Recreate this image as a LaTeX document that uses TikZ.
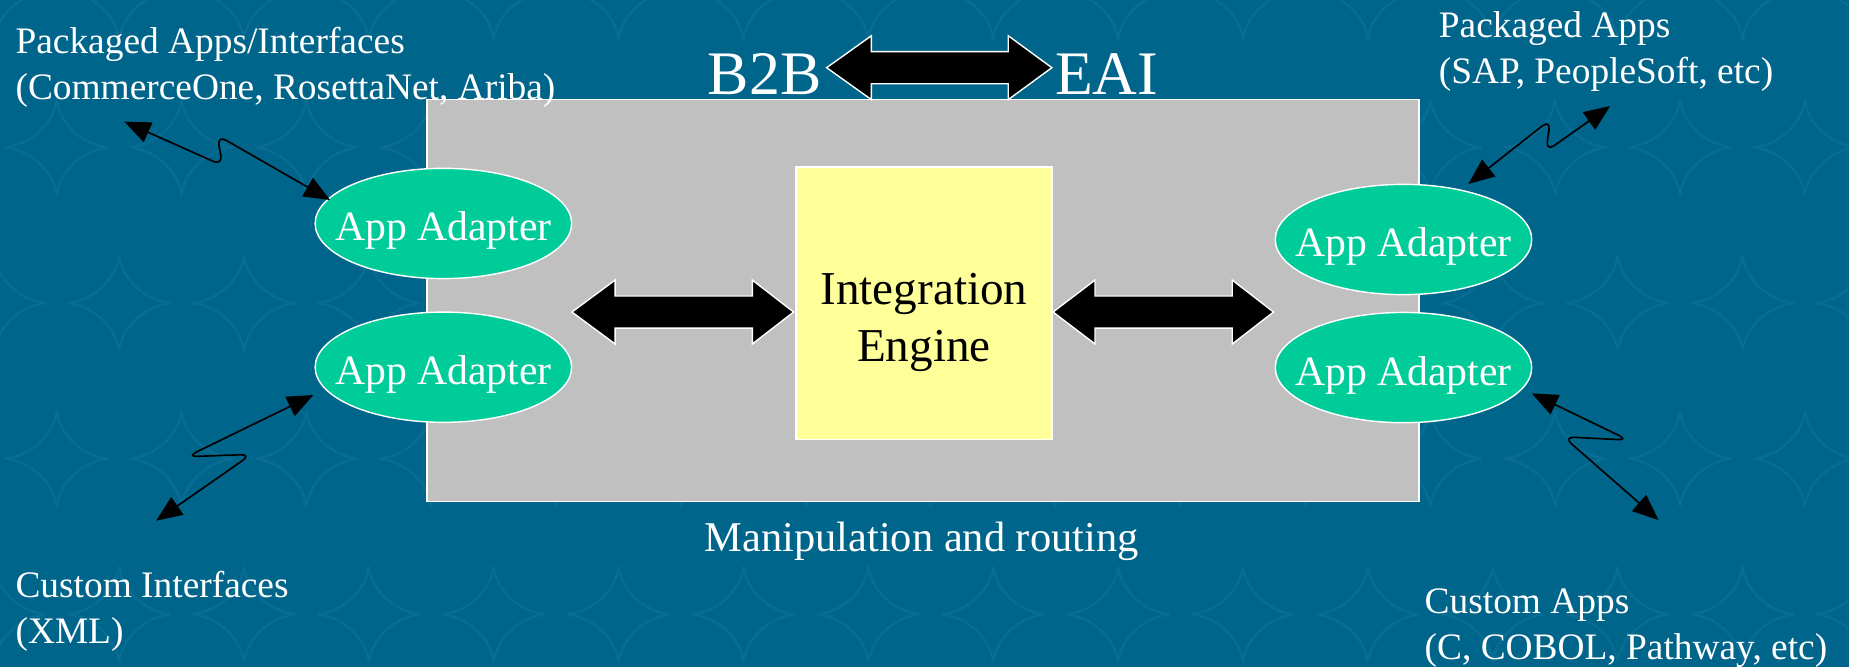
\documentclass[tikz,border=0pt]{standalone}
\usepackage{fontspec}
\setmainfont{Liberation Serif}
\usetikzlibrary{arrows.meta,calc,shapes.geometric}

\definecolor{slide}{HTML}{00658B}
\definecolor{starline}{HTML}{096C93}
\definecolor{panel}{HTML}{C0C0C0}
\definecolor{adapter}{HTML}{00CC99}
\definecolor{engine}{HTML}{FFFF99}

\begin{document}
\begin{tikzpicture}[x=1pt,y=-1pt,
  starstroke/.style={draw=starline, line width=2.2pt, line join=round},
  panelbox/.style={rectangle, draw=white, line width=1.2pt, fill=panel, inner sep=0pt},
  enginebox/.style={rectangle, draw=white, line width=1.2pt, fill=engine, inner sep=0pt,
    minimum width=217pt, minimum height=231pt},
  adapterbox/.style={ellipse, draw=white, line width=1.2pt, fill=adapter, text=white,
    inner sep=0pt, minimum width=217.5pt, minimum height=93.5pt,
    font=\fontsize{35.4}{42}\selectfont, text height=29.6pt, text depth=0pt},
  blockarrow/.style={fill=black, draw=white, line width=1.2pt, line join=miter},
  wire/.style={line width=1.4pt, rounded corners=9pt,
    {Triangle[length=22pt,width=18pt]}-{Triangle[length=22pt,width=18pt]}},
  lbl/.style={text=white, inner sep=0pt, anchor=base west, align=left,
    font=\fontsize{31.7}{39}\selectfont},
  headline/.style={text=white, inner sep=0pt, anchor=base west,
    font=\fontsize{52.5}{60}\selectfont},
  enginetext/.style={text=black, inner sep=0pt, anchor=base, align=center,
    font=\fontsize{40}{48.8}\selectfont},
  captiontext/.style={text=white, inner sep=0pt, anchor=base,
    font=\fontsize{36}{43}\selectfont}
]
% slide background
\fill[slide] (0,0) rectangle (1568,566);
\useasboundingbox (0,0) rectangle (1568,566);

% faint four-pointed star texture
\foreach \r in {0,...,5}{
  \foreach \c in {-1,...,15}{
    \pgfmathsetmacro{\sx}{(isodd(\r) ? 48 : 101) + 105.9*\c}
    \pgfmathsetmacro{\sy}{-7 + 132*\r}
    \begin{scope}[shift={(\sx,\sy)}]
      \draw[starstroke] (0,-40) .. controls (-3,-20) and (-21,-3) .. (-43,0)
        .. controls (-21,3) and (-3,20) .. (0,40)
        .. controls (3,20) and (21,3) .. (43,0)
        .. controls (21,-3) and (3,-20) .. cycle;
    \end{scope}
  }
}

% integration server panel
\node[panelbox, minimum width=841.5pt, minimum height=341pt] (core) at (782.75,254.7) {};

% block arrows
\draw[blockarrow] (701,57.4) -- (739,30.3) -- (739,43.8) -- (855,43.8) -- (855,30.3)
  -- (892,57.4) -- (855,84.5) -- (855,71) -- (739,71) -- (739,84.5) -- cycle;
\draw[blockarrow] (485,264.6) -- (521.6,237.5) -- (521.6,251) -- (638,251) -- (638,237.5)
  -- (673,264.6) -- (638,291.7) -- (638,278.2) -- (521.6,278.2) -- (521.6,291.7) -- cycle;
\draw[blockarrow] (893,264.6) -- (928.6,237.5) -- (928.6,251) -- (1045,251) -- (1045,237.5)
  -- (1080,264.6) -- (1045,291.7) -- (1045,278.2) -- (928.6,278.2) -- (928.6,291.7) -- cycle;

% engine and adapters (multi-line nodes sit on the baseline of their last line)
\node[enginebox] (eng) at (783.5,257.2) {};
\node[enginetext] (engtxt) at (783.5,306.6) {Integration\\Engine};

\node[adapterbox] (la1) at (376,189.5) {\makebox[0pt]{App Adapter}};
\node[adapterbox] (la2) at (376,311.4) {\makebox[0pt]{App Adapter}};
\node[adapterbox] (ra1) at (1190.2,203.1) {\makebox[0pt]{App Adapter}};
\node[adapterbox] (ra2) at (1190.2,311.7) {\makebox[0pt]{App Adapter}};

% outer ends of the links
\coordinate (tlEnd) at (105.5,103.2);
\coordinate (trEnd) at (1365.4,89.9);
\coordinate (blEnd) at (132.4,441.6);
\coordinate (brEnd) at (1406.5,441);

% zig-zag links
\draw[wire] (tlEnd) -- (189,140.5) -- (184,114.5) -- ($(la1)+(-96.1,-19.9)$);
\draw[wire] ($(ra1)+(55,-47.1)$) -- (1315,101.2) -- (1310.8,128.6) -- (trEnd);
\draw[wire] ($(la2)+(-110.3,23.6)$) -- (158.4,387.3) -- (213.2,385.3) -- (blEnd);
\draw[wire] ($(ra2)+(108.8,21.9)$) -- (1381,373.2) -- (1325.9,370.4) -- (brEnd);

% texts
\node[headline] (b2b) at (600,80) {B2B};
\node[headline] (eai) at (894.5,80) {EAI};
\node[lbl] (pkgIf) at (13,84.5) {Packaged Apps/Interfaces\\(CommerceOne, RosettaNet, Ariba)};
\node[lbl] (pkgApps) at (1220,71) {Packaged Apps\\(SAP, PeopleSoft, etc)};
\node[lbl] (custIf) at (13,546) {Custom Interfaces\\(XML)};
\node[lbl] (custApps) at (1208,559.5) {Custom Apps\\(C, COBOL, Pathway, etc)};
\node[captiontext] (route) at (781.5,468) {Manipulation and routing};
\end{tikzpicture}
\end{document}
